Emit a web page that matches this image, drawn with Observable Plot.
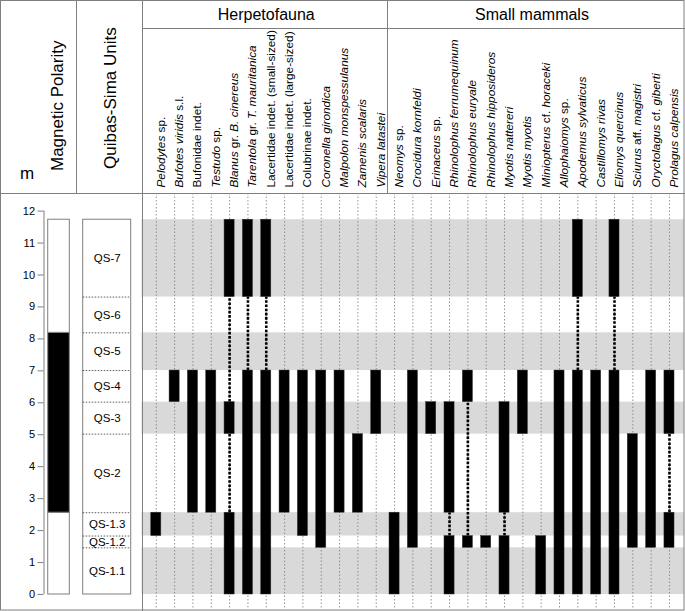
<!DOCTYPE html>
<html><head><meta charset="utf-8">
<script src="https://cdn.jsdelivr.net/npm/d3@7"></script>
<script src="https://cdn.jsdelivr.net/npm/@observablehq/plot@0.6"></script>
<style>
html,body{margin:0;padding:0;background:#fff;}
#chart svg{display:block;}
</style></head><body><div id="chart"></div>
<script>
// ---- data ----
const taxa = [
  "_Pelodytes_ sp.", "_Bufotes viridis_ s.l.", "Bufonidae indet.", "_Testudo_ sp.",
  "_Blanus_ gr. _B. cinereus_", "_Tarentola_ gr. _T. mauritanica_",
  "Lacertidae indet. (small-sized)", "Lacertidae indet. (large-sized)",
  "Colubrinae indet.", "_Coronella girondica_", "_Malpolon monspessulanus_",
  "_Zamenis scalaris_", "_Vipera latastei_",
  "_Neomys_ sp.", "_Crocidura kornfeldi_", "_Erinaceus_ sp.",
  "_Rhinolophus ferrumequinum_", "_Rhinolophus euryale_", "_Rhinolophus hipposideros_",
  "_Myotis nattereri_", "_Myotis myotis_", "_Miniopterus_ cf. _horaceki_",
  "_Allophaiomys_ sp.", "_Apodemus sylvaticus_", "_Castillomys rivas_",
  "_Eliomys quercinus_", "_Sciurus_ aff. _magistri_", "_Oryctolagus_ cf. _giberti_",
  "_Prolagus calpensis_"
];
const groups = ["Herpetofauna", "Small mammals"];
const groupSizes = [13, 16];
const units = ["QS-1.1","QS-1.2","QS-1.3","QS-2","QS-3","QS-4","QS-5","QS-6","QS-7"];
const unitBounds = [0, 1.46, 1.83, 2.56, 5.02, 6.02, 7.01, 8.19, 9.31, 11.73];
// occurrence ranges per taxon: [first unit, last unit]
const occurrences = [
  [["QS-1.3","QS-1.3"]],
  [["QS-4","QS-4"]],
  [["QS-2","QS-4"]],
  [["QS-2","QS-4"]],
  [["QS-1.1","QS-1.3"],["QS-3","QS-3"],["QS-7","QS-7"]],
  [["QS-1.1","QS-4"],["QS-7","QS-7"]],
  [["QS-1.1","QS-4"],["QS-7","QS-7"]],
  [["QS-2","QS-4"]],
  [["QS-1.3","QS-4"]],
  [["QS-1.2","QS-4"]],
  [["QS-2","QS-4"]],
  [["QS-2","QS-2"]],
  [["QS-3","QS-4"]],
  [["QS-1.1","QS-1.3"]],
  [["QS-1.2","QS-4"]],
  [["QS-3","QS-3"]],
  [["QS-1.1","QS-1.2"],["QS-2","QS-3"]],
  [["QS-1.2","QS-1.2"],["QS-4","QS-4"]],
  [["QS-1.2","QS-1.2"]],
  [["QS-1.1","QS-1.2"],["QS-2","QS-3"]],
  [["QS-3","QS-4"]],
  [["QS-1.1","QS-1.2"]],
  [["QS-1.1","QS-4"]],
  [["QS-1.1","QS-4"],["QS-7","QS-7"]],
  [["QS-1.1","QS-4"]],
  [["QS-1.1","QS-4"],["QS-7","QS-7"]],
  [["QS-1.2","QS-2"]],
  [["QS-1.2","QS-4"]],
  [["QS-1.2","QS-1.3"],["QS-3","QS-4"]]
];
const yTicks = [0,1,2,3,4,5,6,7,8,9,10,11,12];
const polarityBounds = [0, 2.56, 8.19, 11.73];
const polarityFill = ["white", "black", "white"];

// ---- derived tables ----
const unitRows = units.map((u, k) => ({unit: u, y1: unitBounds[k], y2: unitBounds[k + 1], shaded: k % 2 === 0}));
const bars = [], gaps = [];
occurrences.forEach((segs, i) => {
  const s = segs.map(([a, b]) => ({i, y1: unitBounds[units.indexOf(a)], y2: unitBounds[units.indexOf(b) + 1]}));
  s.forEach((d, k) => { bars.push(d); if (k > 0) gaps.push({i, y1: s[k - 1].y2, y2: d.y1}); });
});
const polarity = polarityFill.map((f, k) => ({fill: f, y1: polarityBounds[k], y2: polarityBounds[k + 1]}));
let acc = -0.5;
const groupRows = groups.map((g, k) => { const a = acc; acc += groupSizes[k]; return {name: g, a, b: acc}; });

// ---- layout (column units on x) ----
const X0 = -0.78, X1 = 28.82;
const L = {axis: -6.127, tick: -6.454, pol1: -5.897, pol2: -4.719, un1: -3.988, un2: -1.369,
           mag: -5.09, qsu: -2.2, m: -7.054, divShift: 0.12};
const font = "'Liberation Sans', Arial, Helvetica, sans-serif";
const grey = "#7f7f7f";

const frameLines = (index, {x, y}, values, dim) => {
  const g = d3.create("svg:g").attr("fill", "none").attr("stroke", grey).attr("stroke-width", 1);
  const W = dim.width, H = dim.height, top = dim.marginTop, left = Math.round(x(X0)) + 0.5;
  const div = Math.round(x(groupRows[0].b + L.divShift)) + 0.5;
  g.append("rect").attr("x", 0.5).attr("y", 0.5).attr("width", W - 1.5).attr("height", H - 1.5);
  g.append("line").attr("x1", 0).attr("x2", W).attr("y1", top + 0.5).attr("y2", top + 0.5);
  g.append("line").attr("x1", 76.5).attr("x2", 76.5).attr("y1", 0).attr("y2", top);
  g.append("line").attr("x1", left).attr("x2", left).attr("y1", 0).attr("y2", H);
  g.append("line").attr("x1", left).attr("x2", W).attr("y1", 28.5).attr("y2", 28.5);
  g.append("line").attr("x1", div).attr("x2", div).attr("y1", 0).attr("y2", top);
  return g.node();
};

const plot = Plot.plot({
  width: 685, height: 611,
  marginTop: 193, marginBottom: 2, marginLeft: 141.5, marginRight: 1,
  x: {type: "linear", domain: [X0, X1], axis: null},
  y: {type: "linear", domain: [-0.4695, 12.551], axis: null},
  style: {fontFamily: font, fontSize: "11px", background: "white", color: "black", overflow: "visible"},
  marks: [
    // shaded unit bands
    Plot.rect(unitRows.filter(d => d.shaded), {x1: X0, x2: X1, y1: "y1", y2: "y2", fill: "#d9d9d9"}),
    // dotted column guides
    Plot.ruleX(taxa, {x: (d, i) => i, stroke: "#7a7a7a", strokeWidth: 0.8, strokeDasharray: "1.5,2"}),
    // gaps (dotted connectors)
    Plot.ruleX(gaps, {x: "i", y1: "y1", y2: "y2", stroke: "black", strokeWidth: 2.6, strokeDasharray: "2.6,1.6"}),
    // occurrence bars
    Plot.rect(bars, {x1: d => d.i - 0.275, x2: d => d.i + 0.275, y1: "y1", y2: "y2", fill: "black", stroke: "#333", strokeWidth: 0.5}),
    // left depth axis
    Plot.ruleX([0], {x: L.axis, y1: 0, y2: 12, stroke: grey}),
    Plot.ruleY(yTicks, {y: d => d, x1: L.tick, x2: L.axis, stroke: grey}),
    Plot.text(yTicks, {y: d => d, x: L.tick, dx: -3, textAnchor: "end", fontSize: 11}),
    // magnetic polarity column
    Plot.rect(polarity, {x1: L.pol1, x2: L.pol2, y1: "y1", y2: "y2", fill: "fill", stroke: grey}),
    // Quibas-Sima units column
    Plot.rect([unitBounds], {x1: L.un1, x2: L.un2, y1: 0, y2: d => d[d.length - 1], fill: "white", stroke: grey}),
    Plot.ruleY(unitBounds.slice(1, -1), {y: d => d, x1: L.un1, x2: L.un2, stroke: "#333", strokeWidth: 0.8, strokeDasharray: "1.5,1.5"}),
    Plot.text(unitRows, {x: (L.un1 + L.un2) / 2, y: d => (d.y1 + d.y2) / 2, text: "unit", fontSize: 11.5}),
    // header texts
    Plot.text(taxa, {x: (d, i) => i, frameAnchor: "top", dy: -6, rotate: -90, textAnchor: "start", fontSize: 11.8, className: "taxon"}),
    Plot.text(groupRows, {x: d => (Math.max(d.a, X0) + Math.min(d.b, X1)) / 2, text: "name", frameAnchor: "top", dy: -173.5, lineAnchor: "bottom", fontSize: 16}),
    Plot.text(["Magnetic Polarity"], {x: L.mag, frameAnchor: "top", dy: -22.5, rotate: -90, textAnchor: "start", lineAnchor: "bottom", fontSize: 17}),
    Plot.text(["Quibas-Sima Units"], {x: L.qsu, frameAnchor: "top", dy: -24.5, rotate: -90, textAnchor: "start", lineAnchor: "bottom", fontSize: 17}),
    Plot.text(["m"], {x: L.m, frameAnchor: "top", dy: -15, lineAnchor: "bottom", fontSize: 17}),
    frameLines
  ]
});

// italic parts of taxon names (marked with underscores)
d3.select(plot).selectAll("g.taxon text").each(function () {
  const parts = this.textContent.split("_");
  const t = d3.select(this);
  t.text(null);
  parts.forEach((p, k) => { if (p) t.append("tspan").attr("font-style", k % 2 ? "italic" : null).text(p); });
});
document.getElementById("chart").appendChild(plot);
</script></body></html>
